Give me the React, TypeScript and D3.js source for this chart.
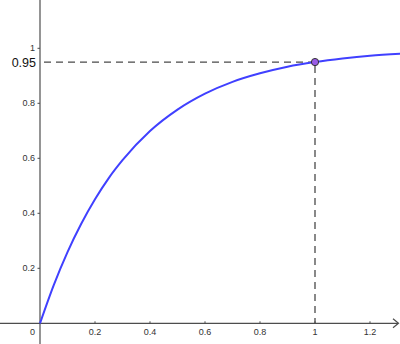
import React from "react";
import * as d3 from "d3";

const xValues = [0, 0.05, 0.1, 0.15, 0.2, 0.25, 0.3, 0.4, 0.5, 0.6, 0.7, 0.8, 0.9, 1.0, 1.1, 1.2, 1.31];
const yValues = [0, 0.139, 0.259, 0.362, 0.451, 0.528, 0.593, 0.699, 0.777, 0.835, 0.878, 0.909, 0.933, 0.95, 0.963, 0.973, 0.98];
const xTicks = [0.2, 0.4, 0.6, 0.8, 1, 1.2];
const xTickLabels = ["0.2", "0.4", "0.6", "0.8", "1", "1.2"];
const yTicks = [0.2, 0.4, 0.6, 0.8, 1];
const yTickLabels = ["0.2", "0.4", "0.6", "0.8", "1"];
const markedPoint = { x: 1, y: 0.95, label: "0.95" };

const W = 400;
const H = 344;

export default function App() {
  const x = d3.scaleLinear().domain([0, 1]).range([40, 315]);
  const y = d3.scaleLinear().domain([0, 1]).range([323.3, 48.3]);
  const x0 = x(0);
  const y0 = y(0);
  const pts: [number, number][] = xValues.map((v, i) => [v, yValues[i]]);
  const line = d3
    .line<[number, number]>()
    .x((d) => x(d[0]))
    .y((d) => y(d[1]))
    .curve(d3.curveMonotoneX);
  const axisColor = "#4d4d4d";
  const font = "'Liberation Sans', Arial, sans-serif";
  const px = x(markedPoint.x);
  const py = y(markedPoint.y);
  return (
    <svg
      width={W}
      height={H}
      style={{ position: "absolute", left: 0, top: 0, display: "block", background: "#fff" }}
    >
      {/* axes */}
      <line x1={0} y1={y0} x2={398} y2={y0} stroke={axisColor} strokeWidth={1.2} />
      <path d={`M${393},${y0 - 4.5} L${398.5},${y0} L${393},${y0 + 4.5}`} fill="none" stroke={axisColor} strokeWidth={1.2} />
      <line x1={x0} y1={0} x2={x0} y2={H} stroke={axisColor} strokeWidth={1.2} />
      {/* x ticks */}
      {xTicks.map((t, i) => (
        <g key={"xt" + i}>
          <line x1={x(t)} y1={y0 - 2} x2={x(t)} y2={y0} stroke={axisColor} strokeWidth={1} />
          <text x={x(t)} y={y0 + 11.5} textAnchor="middle" fontSize={9} fontFamily={font} fill="#333">
            {xTickLabels[i]}
          </text>
        </g>
      ))}
      <text x={x0 - 5} y={y0 + 11.5} textAnchor="end" fontSize={9} fontFamily={font} fill="#333">
        0
      </text>
      {/* y ticks */}
      {yTicks.map((t, i) => (
        <g key={"yt" + i}>
          <line x1={x0 - 2.5} y1={y(t)} x2={x0} y2={y(t)} stroke={axisColor} strokeWidth={1} />
          <text x={x0 - 5} y={y(t) + 3} textAnchor="end" fontSize={9} fontFamily={font} fill="#333">
            {yTickLabels[i]}
          </text>
        </g>
      ))}
      {/* dashed guides */}
      <line x1={x0 + 4} y1={py} x2={px} y2={py} stroke="#4a4a4a" strokeWidth={1.3} strokeDasharray="7,5" />
      <line x1={px} y1={py + 4} x2={px} y2={y0} stroke="#4a4a4a" strokeWidth={1.3} strokeDasharray="7,5" />
      <text x={x0 - 4} y={py + 4.5} textAnchor="end" fontSize={12.5} fontFamily={font} fill="#111">
        {markedPoint.label}
      </text>
      {/* curve */}
      <path d={line(pts) || ""} fill="none" stroke="#4040ff" strokeWidth={2} />
      {/* point */}
      <circle cx={px} cy={py} r={3.6} fill="#9a5ce6" stroke="#333" strokeWidth={1} />
    </svg>
  );
}
